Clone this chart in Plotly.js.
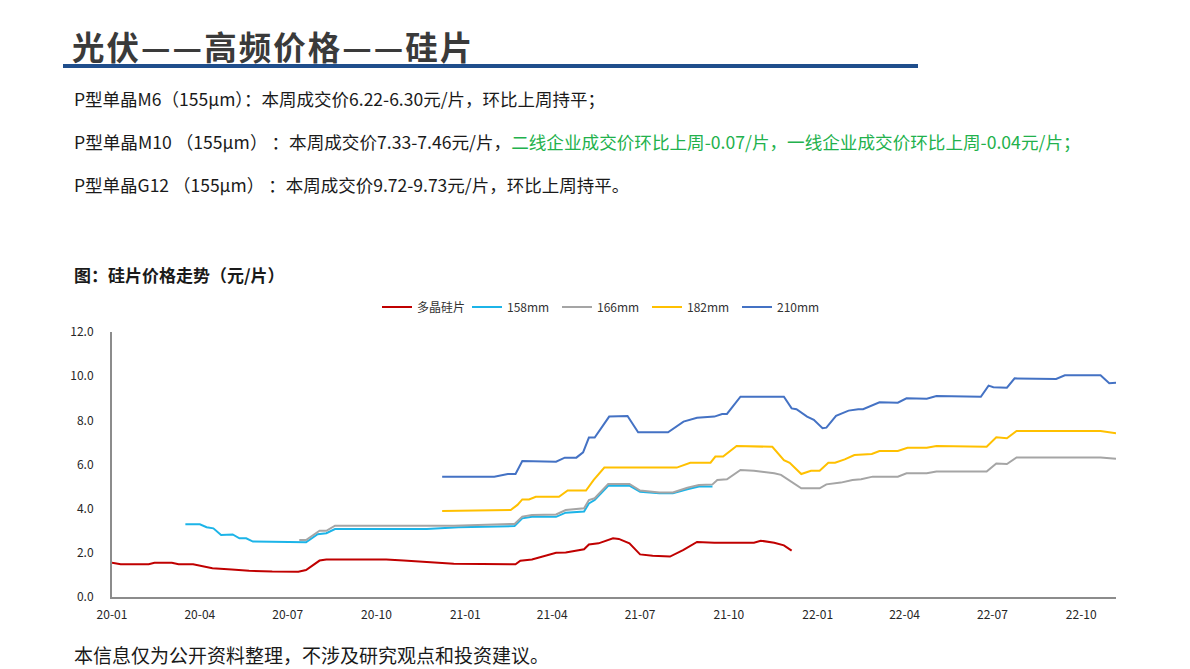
<!DOCTYPE html>
<html>
<head>
<meta charset="utf-8">
<script src="https://cdn.plot.ly/plotly-3.0.1.min.js"></script>
<style>
html,body{margin:0;padding:0;background:#fff;}
#chart{width:1190px;height:669px;}
</style>
</head>
<body>
<div id="chart"></div>
<script>
// ---- data ----
const seriesNames = ['多晶硅片', '158mm', '166mm', '182mm', '210mm'];

const polyDates = ['2020-01-01','2020-01-10','2020-02-08','2020-02-14','2020-03-03','2020-03-10','2020-03-25','2020-04-14','2020-05-04','2020-05-22','2020-06-15','2020-07-12','2020-07-20','2020-08-03','2020-08-10','2020-10-11','2020-10-29','2020-11-22','2020-12-20','2021-02-22','2021-02-27','2021-03-11','2021-04-05','2021-04-15','2021-05-04','2021-05-09','2021-05-19','2021-06-03','2021-06-09','2021-06-20','2021-07-01','2021-07-14','2021-08-01','2021-08-15','2021-08-29','2021-09-16','2021-10-27','2021-11-03','2021-11-17','2021-11-27','2021-12-05'];
const polyValues = [1.55,1.48,1.48,1.55,1.55,1.48,1.48,1.30,1.25,1.19,1.15,1.14,1.22,1.65,1.70,1.70,1.65,1.58,1.51,1.48,1.64,1.70,2.00,2.02,2.16,2.38,2.43,2.66,2.63,2.43,1.93,1.87,1.83,2.13,2.49,2.46,2.46,2.55,2.46,2.34,2.10];

const m158Dates = ['2020-03-17','2020-04-01','2020-04-08','2020-04-15','2020-04-23','2020-05-05','2020-05-12','2020-05-19','2020-05-26','2020-06-22','2020-07-06','2020-07-20','2020-08-01','2020-08-10','2020-08-19','2020-11-22','2020-12-25','2021-02-21','2021-03-01','2021-03-11','2021-04-05','2021-04-15','2021-05-04','2021-05-09','2021-05-15','2021-05-29','2021-06-20','2021-07-01','2021-07-21','2021-08-04','2021-08-19','2021-08-31','2021-09-14'];
const m158Values = [3.29,3.29,3.16,3.11,2.81,2.83,2.66,2.66,2.51,2.51,2.48,2.48,2.84,2.89,3.08,3.08,3.16,3.21,3.56,3.63,3.63,3.82,3.87,4.24,4.39,5.04,5.04,4.77,4.70,4.70,4.88,5.00,5.00];

const m166Dates = ['2020-07-13','2020-07-20','2020-08-03','2020-08-10','2020-08-19','2020-12-20','2021-02-21','2021-03-01','2021-03-11','2021-04-05','2021-04-15','2021-05-04','2021-05-09','2021-05-15','2021-05-29','2021-06-20','2021-07-01','2021-07-21','2021-08-04','2021-08-19','2021-08-31','2021-09-14','2021-09-19','2021-09-29','2021-10-13','2021-10-27','2021-11-17','2021-11-24','2021-12-15','2022-01-03','2022-01-10','2022-01-25','2022-02-06','2022-02-15','2022-02-27','2022-03-25','2022-04-03','2022-04-24','2022-05-04','2022-06-25','2022-07-05','2022-07-16','2022-07-26','2022-10-21','2022-11-06'];
const m166Values = [2.58,2.58,3.00,3.00,3.23,3.23,3.31,3.64,3.71,3.74,3.94,4.02,4.39,4.47,5.12,5.12,4.82,4.73,4.73,4.95,5.07,5.10,5.30,5.33,5.75,5.72,5.60,5.53,4.92,4.92,5.10,5.18,5.30,5.33,5.45,5.45,5.60,5.60,5.68,5.68,6.05,6.02,6.32,6.32,6.26];

const m182Dates = ['2020-12-08','2021-02-17','2021-02-24','2021-03-01','2021-03-08','2021-03-15','2021-04-08','2021-04-17','2021-05-06','2021-05-14','2021-05-25','2021-08-08','2021-08-22','2021-09-12','2021-09-17','2021-09-25','2021-10-09','2021-11-15','2021-11-27','2021-12-03','2021-12-15','2021-12-25','2022-01-03','2022-01-12','2022-01-19','2022-01-29','2022-02-08','2022-02-26','2022-03-06','2022-03-25','2022-04-04','2022-04-24','2022-05-04','2022-06-25','2022-07-05','2022-07-16','2022-07-26','2022-10-21','2022-11-06'];
const m182Values = [3.90,3.94,4.17,4.42,4.42,4.54,4.54,4.82,4.82,5.30,5.86,5.86,6.08,6.08,6.36,6.36,6.84,6.80,6.20,6.08,5.57,5.72,5.72,6.08,6.08,6.23,6.43,6.48,6.61,6.61,6.76,6.76,6.84,6.80,7.23,7.19,7.52,7.52,7.41];

const m210Dates = ['2020-12-08','2021-01-31','2021-02-14','2021-02-22','2021-03-01','2021-04-05','2021-04-14','2021-04-26','2021-05-03','2021-05-09','2021-05-15','2021-05-30','2021-06-18','2021-06-29','2021-07-30','2021-08-15','2021-08-29','2021-09-16','2021-09-24','2021-09-29','2021-10-13','2021-11-27','2021-12-05','2021-12-10','2021-12-21','2021-12-28','2022-01-06','2022-01-10','2022-01-20','2022-02-02','2022-02-12','2022-02-17','2022-03-06','2022-03-25','2022-04-03','2022-04-24','2022-05-04','2022-06-19','2022-06-27','2022-07-02','2022-07-16','2022-07-24','2022-09-05','2022-09-14','2022-10-21','2022-10-30','2022-11-06'];
const m210Values = [5.45,5.45,5.57,5.57,6.16,6.13,6.31,6.31,6.55,7.22,7.22,8.17,8.20,7.46,7.46,7.94,8.12,8.17,8.29,8.29,9.07,9.07,8.54,8.50,8.17,8.02,7.64,7.67,8.20,8.44,8.50,8.50,8.82,8.80,9.00,8.98,9.10,9.07,9.57,9.50,9.48,9.90,9.87,10.04,10.04,9.68,9.70];

const seriesColors = ['#C00000', '#1CB4E8', '#A5A5A5', '#FFC000', '#4472C4'];

const titleText = '光伏——高频价格——硅片';
const line1Text = 'P型单晶M6（155μm）：本周成交价6.22-6.30元/片，环比上周持平；';
const line2Black = 'P型单晶M10 （155μm） ：本周成交价7.33-7.46元/片，';
const line2Green = '二线企业成交价环比上周-0.07/片，一线企业成交价环比上周-0.04元/片；';
const line3Text = 'P型单晶G12 （155μm） ：本周成交价9.72-9.73元/片，环比上周持平。';
const chartCaption = '图：硅片价格走势（元/片）';
const footerText = '本信息仅为公开资料整理，不涉及研究观点和投资建议。';

// ---- chart ----
const xs = [polyDates, m158Dates, m166Dates, m182Dates, m210Dates];
const ys = [polyValues, m158Values, m166Values, m182Values, m210Values];
const traces = seriesNames.map((n, i) => ({
  type: 'scatter', mode: 'lines', name: n,
  x: xs[i], y: ys[i],
  line: {color: seriesColors[i], width: 2}
}));

const CJK = '"Noto Sans CJK SC", "Noto Sans", sans-serif';
const L = 112, R = 1116, T = 332, B = 597;
const px = v => (v - L) / (R - L);
const py = v => (B - v) / (B - T);
// the title in the reference is drawn slightly letter-spaced
const spacedTitle = Array.from(titleText).join('\u200A');

const layout = {
  width: 1190, height: 669,
  margin: {l: L, r: 1190 - R, t: T, b: 669 - B, pad: 0},
  paper_bgcolor: '#fff', plot_bgcolor: '#fff',
  font: {family: CJK, color: '#262626'},
  showlegend: true,
  legend: {orientation: 'h', x: px(377), y: py(307), xanchor: 'left', yanchor: 'middle',
           font: {size: 12, color: '#333', family: CJK}, entrywidth: 45, entrywidthmode: 'pixels',
           bgcolor: 'rgba(0,0,0,0)'},
  xaxis: {type: 'date', range: ['2020-01-01', '2022-11-06'], tick0: '2020-01-01', dtick: 'M3',
          tickformat: '%y-%m', showgrid: false, zeroline: false, showline: true,
          linecolor: '#8c8c8c', linewidth: 2, ticks: 'outside', ticklen: 6, tickcolor: 'rgba(0,0,0,0)',
          tickfont: {size: 12, color: '#262626', family: CJK}},
  yaxis: {range: [0, 12], dtick: 2, tickformat: '.1f', showgrid: false, zeroline: false,
          showline: true, linecolor: '#8c8c8c', linewidth: 2, ticks: 'outside', ticklen: 14,
          tickcolor: 'rgba(0,0,0,0)', tickfont: {size: 12, color: '#262626', family: CJK}},
  shapes: [
    {type: 'line', xref: 'paper', yref: 'paper', x0: px(63), x1: px(918), y0: py(66), y1: py(66),
     line: {color: '#1F4E8C', width: 4}}
  ],
  annotations: [
    {text: '<b>' + spacedTitle + '</b>', x: px(70), y: py(46), font: {size: 32.5, color: '#3a3a3a', family: CJK}},
    {text: line1Text, x: px(72), y: py(98), font: {size: 17.5, color: '#1a1a1a', family: CJK}},
    {text: line2Black + '<span style="color:#22B14C">' + line2Green + '</span>', x: px(72), y: py(142), font: {size: 17.6, color: '#1a1a1a', family: CJK}},
    {text: line3Text, x: px(72), y: py(185), font: {size: 17.5, color: '#1a1a1a', family: CJK}},
    {text: '<b>' + chartCaption + '</b>', x: px(72), y: py(274), font: {size: 17, color: '#1a1a1a', family: CJK}},
    {text: footerText, x: px(72), y: py(654), font: {size: 19, color: '#1a1a1a', family: CJK}}
  ].map(a => Object.assign({xref: 'paper', yref: 'paper', xanchor: 'left', yanchor: 'middle', showarrow: false}, a))
};

Plotly.newPlot('chart', traces, layout, {displayModeBar: false, staticPlot: true});
</script>
</body>
</html>
